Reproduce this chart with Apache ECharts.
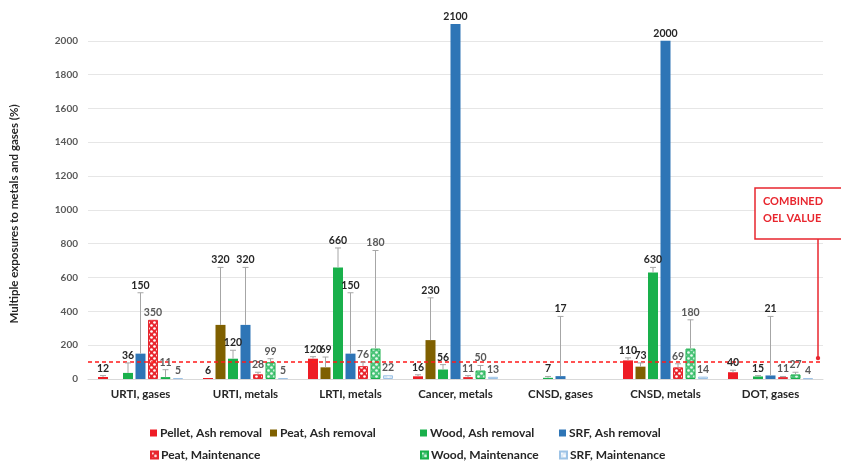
<!DOCTYPE html>
<html>
<head>
<meta charset="utf-8">
<script src="https://cdn.jsdelivr.net/npm/echarts@6/dist/echarts.min.js"></script>
<style>html,body{margin:0;padding:0;background:#fff}#c{width:841px;height:468px}</style>
</head>
<body>
<div id="c"></div>
<script>
// ---------- data ----------
const categories = ['URTI, gases', 'URTI, metals', 'LRTI, metals', 'Cancer, metals', 'CNSD, gases', 'CNSD, metals', 'DOT, gases'];
const seriesNames = ['Pellet, Ash removal', 'Peat, Ash removal', 'Wood, Ash removal', 'SRF, Ash removal', 'Peat, Maintenance', 'Wood, Maintenance', 'SRF, Maintenance'];
const pelletAsh = [12, 6, 120, 16, null, 110, 40];
const peatAsh   = [null, 320, 69, 230, null, 73, null];
const woodAsh   = [36, 120, 660, 56, 7, 630, 15];
const srfAsh    = [150, 320, 150, 2100, 17, 2000, 21];
const peatMaint = [350, 28, 76, 11, null, 69, 11];
const woodMaint = [11, 99, 180, 50, null, 180, 27];
const srfMaint  = [5, 5, 22, 13, null, 14, 4];
// upper ends of the error bars (null = none visible)
const pelletAshErr = [20, null, 132, 25, null, 125, 52];
const peatAshErr   = [null, 660, 130, 480, null, 95, null];
const woodAshErr   = [95, 170, 775, 85, 15, 660, 20];
const srfAshErr    = [510, 660, 510, null, 370, null, 370];
const peatMaintErr = [null, 40, 100, 20, null, 90, 15];
const woodMaintErr = [55, 120, 760, 80, null, 350, 40];
const srfMaintErr  = [null, null, null, null, null, null, null];
const oelValue = 100;
const yTicks = [0, 200, 400, 600, 800, 1000, 1200, 1400, 1600, 1800, 2000];
const yTitle = 'Multiple exposures to metals and gases (%)';
const oelText = 'COMBINED\nOEL VALUE';

const values = [pelletAsh, peatAsh, woodAsh, srfAsh, peatMaint, woodMaint, srfMaint];
const errs = [pelletAshErr, peatAshErr, woodAshErr, srfAshErr, peatMaintErr, woodMaintErr, srfMaintErr];

// ---------- styles ----------
function pattern(bg, dot, size) {
  const c = document.createElement('canvas');
  c.width = size; c.height = size;
  const g = c.getContext('2d');
  g.fillStyle = bg; g.fillRect(0, 0, size, size);
  g.fillStyle = dot;
  const r = size * 0.22;
  g.beginPath(); g.arc(size * 0.25, size * 0.25, r, 0, Math.PI * 2); g.fill();
  g.beginPath(); g.arc(size * 0.75, size * 0.75, r, 0, Math.PI * 2); g.fill();
  return { image: c, repeat: 'repeat' };
}
const fills = [
  '#ee1c25',
  '#7f6000',
  '#19b04b',
  '#2e75b6',
  pattern('#e8262e', '#ffffff', 6),
  pattern('#4cc47a', '#eafaf0', 6),
  pattern('#dbe9f6', '#ffffff', 6)
];
const borders = ['#ee1c25', '#7f6000', '#19b04b', '#2e75b6', '#e8262e', '#19b04b', '#9dc3e6'];
const labelColors = ['#262626', '#262626', '#262626', '#262626', '#595959', '#595959', '#595959'];
const BAR_W = 10, GAP = 2.5;
const FONT = 'Lato, "Open Sans", sans-serif';

const series = [];
seriesNames.forEach((name, s) => {
  const bar = {
    type: 'bar', name: name, data: values[s], barWidth: BAR_W, barGap: (GAP / BAR_W * 100) + '%',
    itemStyle: { color: fills[s], borderColor: borders[s], borderWidth: s >= 4 ? 1 : 0 },
    emphasis: { disabled: true }, z: 3
  };
  if (s === 0) {
    bar.markLine = {
      silent: true, symbol: 'none', label: { show: false },
      lineStyle: { color: '#ff1a1a', type: [4, 3], width: 1.6 },
      data: [{ yAxis: oelValue }], z: 6
    };
  }
  series.push(bar);
});
seriesNames.forEach((name, s) => {
  series.push({
    type: 'custom', name: name + ' (err)', z: 7, silent: true,
    data: categories.map((c, i) => [i, values[s][i] == null ? 0 : values[s][i]]),
    renderItem: function (params, api) {
      const i = params.dataIndex;
      const v = values[s][i];
      if (v == null) return null;
      const base = api.coord([i, v]);
      const x = base[0] + (s - 3) * (BAR_W + GAP);
      const children = [];
      let topY = base[1];
      const e = errs[s][i];
      if (e != null) {
        const pe = api.coord([i, e]);
        children.push({ type: 'line', shape: { x1: x, y1: base[1], x2: x, y2: pe[1] }, style: { stroke: '#a6a6a6', lineWidth: 1 } });
        children.push({ type: 'line', shape: { x1: x - 3, y1: pe[1], x2: x + 3, y2: pe[1] }, style: { stroke: '#a6a6a6', lineWidth: 1 } });
        topY = pe[1];
      }
      children.push({ type: 'text', x: x, y: topY - 2, style: { text: String(v), align: 'center', verticalAlign: 'bottom', fill: labelColors[s], font: 'bold 10.5px ' + FONT } });
      return { type: 'group', children: children };
    }
  });
});

const chart = echarts.init(document.getElementById('c'), null, { renderer: 'canvas' });
const legendCommon = { icon: 'rect', itemWidth: 7, itemHeight: 7, padding: 0, itemGap: 0, textStyle: { fontFamily: FONT, fontWeight: 'bold', fontSize: 12, color: '#262626', padding: [0, 0, 0, -2] }, selectedMode: false, orient: 'horizontal' };
const legendSpots = [[150, 427], [270, 427], [420, 427], [559, 427], [150, 449], [420, 449], [559, 449]];
chart.setOption({
  animation: false,
  grid: { left: 88, right: 18, top: 7, bottom: 89 },
  xAxis: {
    type: 'category', data: categories,
    axisLine: { show: true, lineStyle: { color: '#d9d9d9' } }, axisTick: { show: false },
    axisLabel: { fontFamily: FONT, fontWeight: 'bold', fontSize: 11.5, color: '#262626', margin: 9 }
  },
  yAxis: {
    type: 'value', min: 0, max: 2200, interval: 200,
    axisLabel: { fontFamily: FONT, fontWeight: 'bold', fontSize: 10, color: '#595959', margin: 10,
      formatter: v => (yTicks.indexOf(v) >= 0 ? String(v) : '') },
    splitLine: { lineStyle: { color: ['#e6e6e6', '#e6e6e6', '#e6e6e6', '#e6e6e6', '#e6e6e6', '#e6e6e6', '#e6e6e6', '#e6e6e6', '#e6e6e6', '#e6e6e6', '#e6e6e6', 'rgba(0,0,0,0)'] } },
    axisLine: { show: false }, axisTick: { show: false }
  },
  legend: seriesNames.map((n, k) => Object.assign({}, legendCommon, { left: legendSpots[k][0], top: legendSpots[k][1], data: [n] })),
  series: series
});

// annotation: combined OEL value, and the y-axis title
const yLine = chart.convertToPixel({ yAxisIndex: 0 }, oelValue);
chart.setOption({
  graphic: [
    { type: 'text', x: 14, y: 214, rotation: Math.PI / 2, style: { text: yTitle, align: 'center', verticalAlign: 'middle', fill: '#262626', font: 'bold 11.5px ' + FONT } },
    { type: 'rect', shape: { x: 755, y: 188, width: 95, height: 51 }, style: { fill: '#fff', stroke: '#e8262e', lineWidth: 1.5 }, z: 10 },
    { type: 'text', x: 763, y: 193, style: { text: oelText, fill: '#e8262e', font: 'bold 11px ' + FONT, lineHeight: 17 }, z: 11 },
    { type: 'line', shape: { x1: 818, y1: 239, x2: 818, y2: yLine - 4 }, style: { stroke: '#e8262e', lineWidth: 1.5 }, z: 10 },
    { type: 'circle', shape: { cx: 818, cy: yLine - 4, r: 2.2 }, style: { fill: '#e8262e' }, z: 10 }
  ]
});
</script>
</body>
</html>
